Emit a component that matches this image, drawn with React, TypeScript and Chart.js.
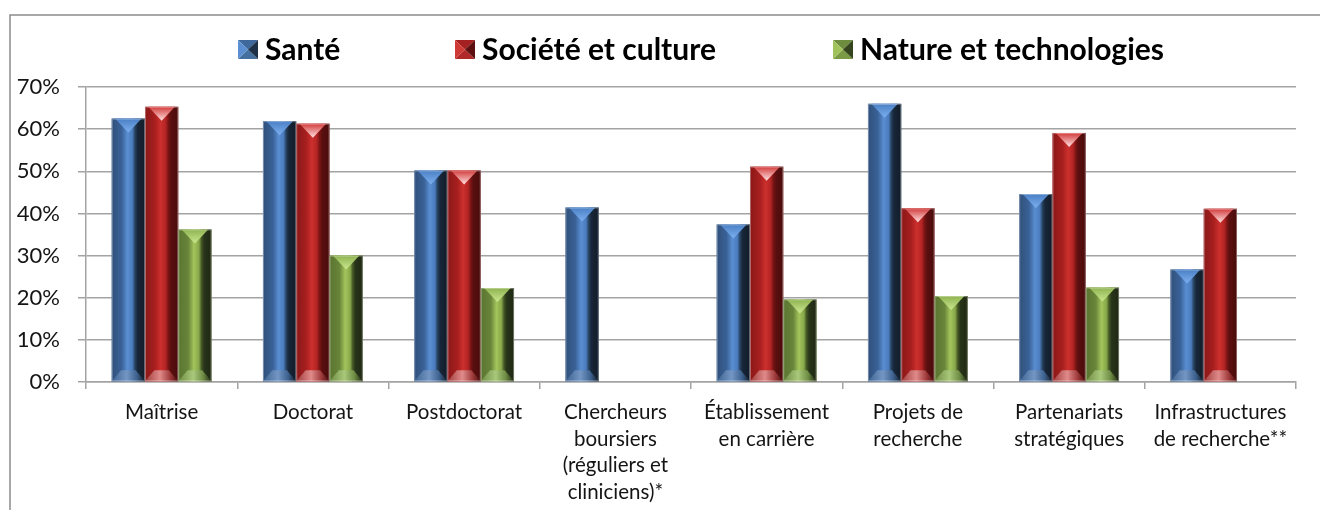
import React, { useEffect, useRef } from "react";
import { Chart, registerables } from "chart.js";

Chart.register(...registerables);

// ---------- DATA ----------
const categories: string[][] = [
  ["Maîtrise"],
  ["Doctorat"],
  ["Postdoctorat"],
  ["Chercheurs", "boursiers", "(réguliers et", "cliniciens)*"],
  ["Établissement", "en carrière"],
  ["Projets de", "recherche"],
  ["Partenariats", "stratégiques"],
  ["Infrastructures", "de recherche**"],
];
const seriesNames = ["Santé", "Société et culture", "Nature et technologies"];
const santeValues: (number | null)[] = [62.5, 61.9, 50.2, 41.4, 37.4, 66.0, 44.6, 26.7];
const societeValues: (number | null)[] = [65.3, 61.3, 50.2, null, 51.1, 41.2, 59.1, 41.1];
const natureValues: (number | null)[] = [36.2, 30.0, 22.3, null, 19.6, 20.4, 22.4, null];
const yTickValues = [0, 10, 20, 30, 40, 50, 60, 70];

// ---------- STYLE ----------
const FONT = "Lato, 'Open Sans', sans-serif";
const TXT = "#141414";
const GRID = "#a3a3a3";

type Palette = {
  base: string;
  stops: [number, string][];
  topEdge: string;
  topApex: string;
  bottomSide: string;
  bottomMid: string;
  mL: string;
  mR: string;
  mT: string;
  mB: string;
};

const palettes: Palette[] = [
  {
    base: "#4f81bd",
    stops: [
      [0, "#30507a"],
      [0.3, "#3a6298"],
      [0.47, "#5a8ed2"],
      [0.62, "#4a7cbe"],
      [0.7, "#27425f"],
      [0.78, "#172638"],
      [1, "#121c29"],
    ],
    topEdge: "#4a7fc4",
    topApex: "#7cb0f0",
    bottomSide: "#3f6390",
    bottomMid: "#7396c4",
    mL: "#5b8fd1",
    mR: "#1c3047",
    mT: "#3f689c",
    mB: "#44709f",
  },
  {
    base: "#c0504d",
    stops: [
      [0, "#8a1818"],
      [0.3, "#a81f1f"],
      [0.47, "#cc302d"],
      [0.62, "#b32424"],
      [0.7, "#7a1414"],
      [0.78, "#5a0f0f"],
      [1, "#4a0b0b"],
    ],
    topEdge: "#d23a3a",
    topApex: "#ffe2e2",
    bottomSide: "#a03c3c",
    bottomMid: "#e08a8a",
    mL: "#d03a36",
    mR: "#5e1010",
    mT: "#a52020",
    mB: "#b02a2a",
  },
  {
    base: "#9bbb59",
    stops: [
      [0, "#5b7530"],
      [0.3, "#68853a"],
      [0.47, "#a4c45c"],
      [0.62, "#88a84a"],
      [0.7, "#435724"],
      [0.78, "#28341a"],
      [1, "#1f2813"],
    ],
    topEdge: "#8fb350",
    topApex: "#cbe890",
    bottomSide: "#6e8c44",
    bottomMid: "#a9c87a",
    mL: "#a0c25a",
    mR: "#34441c",
    mT: "#6f8d3e",
    mB: "#7a9a45",
  },
];

function drawBevelBar(
  ctx: CanvasRenderingContext2D,
  l: number,
  r: number,
  t: number,
  b: number,
  p: Palette
) {
  const w = r - l;
  const h = b - t;
  if (h <= 0 || w <= 0) return;
  ctx.save();
  const g = ctx.createLinearGradient(l, 0, r, 0);
  p.stops.forEach(([o, c]) => g.addColorStop(o, c));
  ctx.fillStyle = g;
  ctx.fillRect(l, t, w, h);

  // top bevel (V shape)
  const e = Math.min(14, h / 2);
  const tg = ctx.createLinearGradient(0, t, 0, t + e);
  tg.addColorStop(0, p.topEdge);
  tg.addColorStop(1, p.topApex);
  ctx.beginPath();
  ctx.moveTo(l + w * 0.1, t);
  ctx.lineTo(r - w * 0.1, t);
  ctx.lineTo(l + w * 0.5, t + e);
  ctx.closePath();
  ctx.fillStyle = tg;
  ctx.fill();

  // bottom bevel (trapezoid)
  const eb = Math.min(11, h / 2);
  const bg = ctx.createLinearGradient(l, 0, r, 0);
  bg.addColorStop(0, p.bottomSide);
  bg.addColorStop(0.45, p.bottomMid);
  bg.addColorStop(0.75, p.bottomSide);
  bg.addColorStop(1, p.stops[p.stops.length - 1][1]);
  ctx.beginPath();
  ctx.moveTo(l, b);
  ctx.lineTo(r, b);
  ctx.lineTo(r - w * 0.28, b - eb);
  ctx.lineTo(l + w * 0.28, b - eb);
  ctx.closePath();
  ctx.fillStyle = bg;
  ctx.fill();

  // faint light outline
  ctx.strokeStyle = "rgba(255,255,255,0.35)";
  ctx.lineWidth = 1;
  ctx.strokeRect(l + 0.5, t + 0.5, w - 1, h - 1);
  ctx.restore();
}

function drawMarker(ctx: CanvasRenderingContext2D, x: number, y: number, w: number, h: number, p: Palette) {
  const cx = x + w / 2;
  const cy = y + h / 2;
  const tri = (pts: number[][], c: string) => {
    ctx.beginPath();
    ctx.moveTo(pts[0][0], pts[0][1]);
    for (let i = 1; i < pts.length; i++) ctx.lineTo(pts[i][0], pts[i][1]);
    ctx.closePath();
    ctx.fillStyle = c;
    ctx.fill();
  };
  tri([[x, y], [x + w, y], [cx, cy]], p.mT);
  tri([[x, y + h], [x + w, y + h], [cx, cy]], p.mB);
  tri([[x, y], [x, y + h], [cx, cy]], p.mL);
  tri([[x + w, y], [x + w, y + h], [cx, cy]], p.mR);
}

const legendMarkerX = [238, 455, 833];

const decorPlugin = {
  id: "decor",
  beforeDraw(chart: any) {
    const ctx: CanvasRenderingContext2D = chart.ctx;
    ctx.save();
    ctx.fillStyle = "#ffffff";
    ctx.fillRect(0, 0, chart.width, chart.height);
    ctx.strokeStyle = "#8c8c8c";
    ctx.lineWidth = 1.5;
    ctx.beginPath();
    ctx.moveTo(10, chart.height);
    ctx.lineTo(10, 15);
    ctx.lineTo(chart.width, 15);
    ctx.stroke();
    ctx.restore();
  },
  afterDatasetsDraw(chart: any) {
    const ctx: CanvasRenderingContext2D = chart.ctx;
    chart.data.datasets.forEach((ds: any, i: number) => {
      const meta = chart.getDatasetMeta(i);
      meta.data.forEach((el: any, j: number) => {
        const v = ds.data[j];
        if (v === null || v === undefined) return;
        const { x, y, base, width } = el.getProps(["x", "y", "base", "width"], true);
        if (!isFinite(y)) return;
        drawBevelBar(ctx, x - width / 2, x + width / 2, Math.min(y, base), Math.max(y, base), palettes[i]);
      });
    });
  },
  afterDraw(chart: any) {
    const ctx: CanvasRenderingContext2D = chart.ctx;
    ctx.save();
    ctx.font = `bold 30px ${FONT}`;
    ctx.textBaseline = "middle";
    ctx.textAlign = "left";
    ctx.fillStyle = "#000000";
    seriesNames.forEach((name, i) => {
      const mx = legendMarkerX[i];
      drawMarker(ctx, mx, 40, 20, 19, palettes[i]);
      ctx.fillStyle = "#000000";
      ctx.fillText(name, mx + 27, 50);
    });
    ctx.restore();
  },
};

export default function App() {
  const canvasRef = useRef<HTMLCanvasElement | null>(null);

  useEffect(() => {
    if (!canvasRef.current) return;
    const valueSets = [santeValues, societeValues, natureValues];
    const chart = new Chart(canvasRef.current, {
      type: "bar",
      data: {
        labels: categories,
        datasets: seriesNames.map((name, i) => ({
          label: name,
          data: valueSets[i],
          backgroundColor: palettes[i].base,
          borderWidth: 0,
          categoryPercentage: 0.66,
          barPercentage: 1.0,
        })),
      },
      options: {
        animation: false,
        responsive: true,
        maintainAspectRatio: false,
        layout: { padding: { top: 87, right: 24, left: 0, bottom: 0 } },
        plugins: {
          legend: { display: false },
          tooltip: { enabled: false },
          title: { display: false },
        },
        scales: {
          x: {
            grid: {
              display: true,
              drawOnChartArea: false,
              drawTicks: true,
              tickLength: 7,
              color: GRID,
              lineWidth: 1.5,
              offset: true,
            },
            border: { display: true, color: GRID, width: 1.5 },
            ticks: {
              color: TXT,
              font: { family: FONT, size: 20.5, lineHeight: 1.3 },
              padding: 10,
              maxRotation: 0,
              minRotation: 0,
              autoSkip: false,
            },
            afterFit: (s: any) => {
              s.height = 128;
            },
          },
          y: {
            min: yTickValues[0],
            max: yTickValues[yTickValues.length - 1],
            afterBuildTicks: (s: any) => {
              s.ticks = yTickValues.map((v) => ({ value: v }));
            },
            ticks: {
              color: TXT,
              font: { family: FONT, size: 22 },
              padding: 18,
              callback: (v: any) => `${v}%`,
            },
            grid: {
              color: GRID,
              lineWidth: 1.5,
              tickLength: 8,
              drawTicks: true,
            },
            border: { display: true, color: GRID, width: 1.5 },
            afterFit: (s: any) => {
              s.width = 86;
            },
          },
        },
      },
      plugins: [decorPlugin],
    });
    return () => chart.destroy();
  }, []);

  return (
    <div
      style={{
        position: "fixed",
        left: 0,
        top: 0,
        width: 1320,
        height: 510,
        overflow: "hidden",
        background: "#fff",
      }}
    >
      <div style={{ position: "absolute", left: 0, top: 0, width: 1320, height: 510 }}>
        <canvas ref={canvasRef} />
      </div>
    </div>
  );
}
